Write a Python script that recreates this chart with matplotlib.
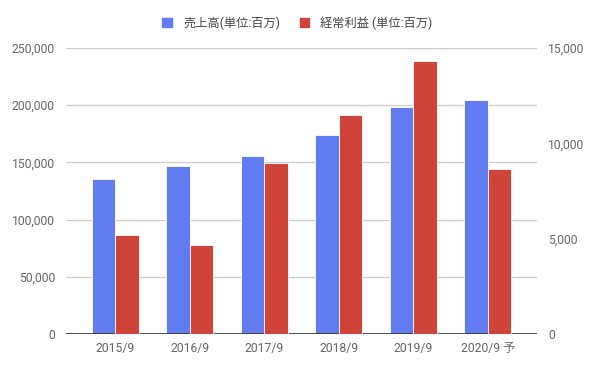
import numpy as np
import matplotlib
matplotlib.use("Agg")
import matplotlib.pyplot as plt
from matplotlib.ticker import FuncFormatter
from matplotlib.patches import Patch

plt.rcParams['font.family'] = ['Roboto', 'Noto Sans CJK JP', 'DejaVu Sans']

years = ['2015/9', '2016/9', '2017/9', '2018/9', '2019/9', '2020/9 予']
sales = [135400, 146800, 155800, 173900, 198700, 204500]
profit = [5180, 4660, 8970, 11490, 14320, 8670]

blue = '#617cf0'
red = '#cf4439'
grey = '#666666'

fig = plt.figure(figsize=(5.95, 3.70), dpi=100)
ax = fig.add_axes([66 / 595, 36 / 370, 471 / 595, 286 / 370])
ax2 = ax.twinx()

x = np.arange(len(years))
w = 0.315
ax.bar(x - 0.16, sales, width=w, color=blue, edgecolor='white', linewidth=0.6, zorder=3)
ax2.bar(x + 0.16, profit, width=w, color=red, edgecolor='white', linewidth=0.6, zorder=3)

ax.set_xlim(-0.66, len(years) - 1 + 0.66)
ax.set_ylim(0, 250000)
ax2.set_ylim(0, 15000)
ax.set_yticks(np.arange(0, 250001, 50000))
ax2.set_yticks(np.arange(0, 15001, 5000))

fmt = FuncFormatter(lambda v, p: f'{int(v):,}')
ax.yaxis.set_major_formatter(fmt)
ax2.yaxis.set_major_formatter(fmt)

ax.set_xticks(x)
ax.set_xticklabels(years)

ax.grid(axis='y', color='#cccccc', linewidth=0.9, zorder=0)
ax.set_axisbelow(True)

for a in (ax, ax2):
    for s in a.spines.values():
        s.set_visible(False)
    a.tick_params(length=0, labelsize=8.7, labelcolor=grey)
ax.tick_params(axis='y', pad=8)
ax2.tick_params(axis='y', pad=8)
ax.tick_params(axis='x', pad=6)
ax.axhline(0, color='#333333', linewidth=1.2, zorder=4)

handles = [Patch(color=blue, label='売上高(単位:百万)'),
           Patch(color=red, label='経常利益 (単位:百万)')]
fig.legend(handles=handles, loc='center', bbox_to_anchor=(0.5, 0.938), ncol=2,
           frameon=False, fontsize=8.8, labelcolor='#444444',
           handlelength=0.8, handleheight=0.8, handletextpad=0.9, columnspacing=1.6)

fig.savefig('out.png', dpi=100)
